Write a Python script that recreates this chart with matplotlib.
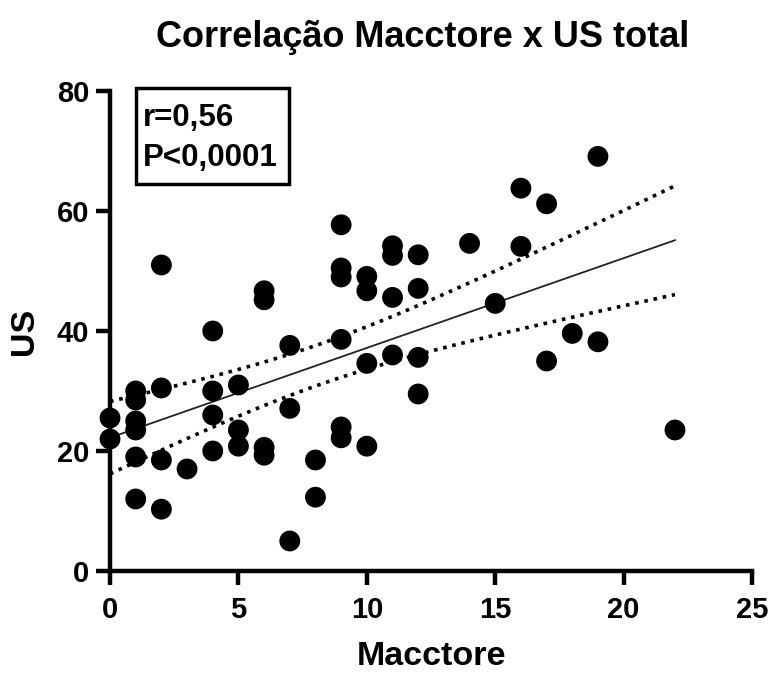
import numpy as np
import matplotlib.pyplot as plt
from matplotlib.patches import Rectangle

plt.rcParams['font.family'] = ['Liberation Sans', 'DejaVu Sans']

# Macctore score and US total per subject
macctore = [0, 0,
            1, 1, 1, 1, 1, 1,
            2, 2, 2, 2,
            3,
            4, 4, 4, 4,
            5, 5, 5,
            6, 6, 6, 6,
            7, 7, 7,
            8, 8,
            9, 9, 9, 9, 9, 9,
            10, 10, 10, 10,
            11, 11, 11, 11,
            12, 12, 12, 12,
            14, 15, 16, 16, 17, 17, 18, 19, 19, 22]
us_total = [25.5, 22,
            30, 28.5, 25, 23.5, 19, 12,
            51, 30.5, 18.5, 10.3,
            17,
            40, 30, 26, 20,
            31, 23.5, 20.8,
            46.7, 45.2, 20.6, 19.3,
            37.6, 27.1, 5,
            18.5, 12.3,
            57.7, 50.5, 49, 38.6, 24, 22.2,
            49.1, 46.7, 34.6, 20.8,
            54.2, 52.6, 45.6, 36,
            52.7, 47.1, 35.6, 29.5,
            54.6, 44.6, 63.8, 54.1, 61.2, 35, 39.6, 69.1, 38.2, 23.5]
r_text = "r=0,56"
p_text = "P<0,0001"

x = np.array(macctore, dtype=float)
y = np.array(us_total, dtype=float)

# least squares fit with 95% confidence band of the mean
n = len(x)
slope, intercept = np.polyfit(x, y, 1)
resid = y - (slope * x + intercept)
s = np.sqrt(np.sum(resid ** 2) / (n - 2))
sxx = np.sum((x - x.mean()) ** 2)
xf = np.linspace(x.min(), x.max(), 200)
yf = slope * xf + intercept
t_crit = 2.004  # t(0.975, df=55)
half = t_crit * s * np.sqrt(1 / n + (xf - x.mean()) ** 2 / sxx)

fig = plt.figure(figsize=(7.71, 6.75), dpi=100)
ax = fig.add_axes([0.1427, 0.1541, 0.8327, 0.7111])

ax.plot(xf, yf, color='#222222', lw=1.3, zorder=2)
ax.plot(xf, yf + half, color='black', lw=2.6, ls=(0, (1, 1.6)), zorder=2)
ax.plot(xf, yf - half, color='black', lw=2.6, ls=(0, (1, 1.6)), zorder=2)
ax.scatter(x, y, s=225, color='black', edgecolors='none', zorder=3, clip_on=False)

ax.set_xlim(0, 25)
ax.set_ylim(0, 80)
ax.set_xticks([0, 5, 10, 15, 20, 25])
ax.set_yticks([0, 20, 40, 60, 80])
for side in ('top', 'right'):
    ax.spines[side].set_visible(False)
for side in ('left', 'bottom'):
    ax.spines[side].set_linewidth(3.2)
ax.tick_params(width=3.2, length=10, labelsize=21, pad=5)
ax.tick_params(axis='x', pad=8)
for lab in ax.get_xticklabels() + ax.get_yticklabels():
    lab.set_fontweight('bold')

ax.set_xlabel('Macctore', fontsize=24.5, fontweight='bold', labelpad=12)
ax.set_ylabel('US', fontsize=24.5, fontweight='bold', labelpad=12)
fig.text(0.548, 0.945, 'Correlação Macctore x US total', ha='center', va='center',
         fontsize=26, fontweight='bold')

# stats box
fig.patches.append(Rectangle((136 / 771, 1 - 184 / 675), 153 / 771, 96 / 675,
                             transform=fig.transFigure, fill=False, lw=2.5,
                             edgecolor='black'))
fig.text(143 / 771, 1 - 118 / 675, r_text, fontsize=22.5, fontweight='bold', va='center')
fig.text(143 / 771, 1 - 158 / 675, p_text, fontsize=22.5, fontweight='bold', va='center')

fig.savefig('out.png', dpi=100)
